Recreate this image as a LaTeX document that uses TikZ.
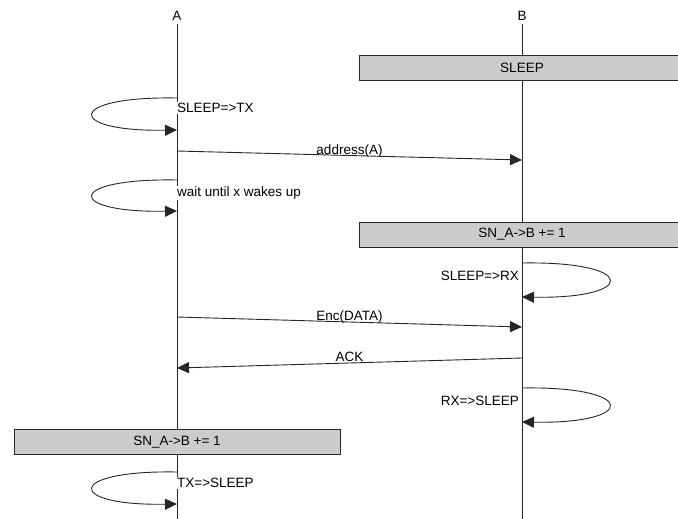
\documentclass[tikz,border=0pt]{standalone}
\usepackage{fontspec}
\setmainfont{Liberation Sans}
\usetikzlibrary{arrows.meta}
\begin{document}
\begin{tikzpicture}[x=1pt,y=-1pt,
  font=\fontsize{13.5}{16}\selectfont,
  line/.style={draw=black!85, line width=0.9pt},
  msg/.style={line, -{Triangle[length=12pt,width=11pt]}},
  statebox/.style={draw=black!85, line width=0.9pt, fill=black!20, minimum width=326pt, minimum height=25pt, inner sep=0pt},
  lbl/.style={inner sep=1pt, fill=white},
  mlbl/.style={anchor=base, inner sep=0pt, yshift=1.5pt},
]
\useasboundingbox (0,0) rectangle (678,519);
\clip (0,0) rectangle (678,519);
% lifelines
\node (A) at (177,16) {A};
\node (B) at (522,16) {B};
\coordinate (Aend) at (177,525);
\coordinate (Bend) at (522,525);
\draw[line] (A.south) -- (Aend);
\draw[line] (B.south) -- (Bend);
% state boxes
\node[statebox] (s1) at (522,67.5) {SLEEP};
\node[statebox] (s2) at (522,234.5) {SN\_A->B += 1};
\node[statebox] (s3) at (177,442) {SN\_A->B += 1};
% self loop A: SLEEP=>TX
\coordinate (a1s) at (177,98);
\coordinate (a1e) at (177,130);
\draw[msg] (a1s) .. controls (65,96) and (65,132) .. (a1e);
\node[lbl, anchor=west] (l1) at (176,108) {SLEEP=>TX};
% address(A)
\coordinate (m1s) at (177,151);
\coordinate (m1e) at (522,160);
\draw[msg] (m1s) -- node[mlbl] (l2) {address(A)} (m1e);
% wait until x wakes up
\coordinate (a2s) at (177,180);
\coordinate (a2e) at (177,211);
\draw[msg] (a2s) .. controls (65,178) and (65,213) .. (a2e);
\node[lbl, anchor=west] (l3) at (176,193) {wait until x wakes up};
% SLEEP=>RX
\coordinate (b1s) at (522,263);
\coordinate (b1e) at (522,297);
\draw[msg] (b1s) .. controls (638,261) and (638,299) .. (b1e);
\node[inner sep=1pt, anchor=east] (l4) at (520,276) {SLEEP=>RX};
% Enc(DATA)
\coordinate (m2s) at (177,317);
\coordinate (m2e) at (522,327);
\draw[msg] (m2s) -- node[mlbl] (l5) {Enc(DATA)} (m2e);
% ACK
\coordinate (m3s) at (522,358);
\coordinate (m3e) at (177,368);
\draw[msg] (m3s) -- node[mlbl] (l6) {ACK} (m3e);
% RX=>SLEEP
\coordinate (b2s) at (522,388);
\coordinate (b2e) at (522,422);
\draw[msg] (b2s) .. controls (638,386) and (638,424) .. (b2e);
\node[inner sep=1pt, anchor=east] (l7) at (520,401) {RX=>SLEEP};
% TX=>SLEEP
\coordinate (a3s) at (177,472);
\coordinate (a3e) at (177,504);
\draw[msg] (a3s) .. controls (65,470) and (65,506) .. (a3e);
\node[lbl, anchor=west] (l8) at (176,483) {TX=>SLEEP};
\end{tikzpicture}
\end{document}
